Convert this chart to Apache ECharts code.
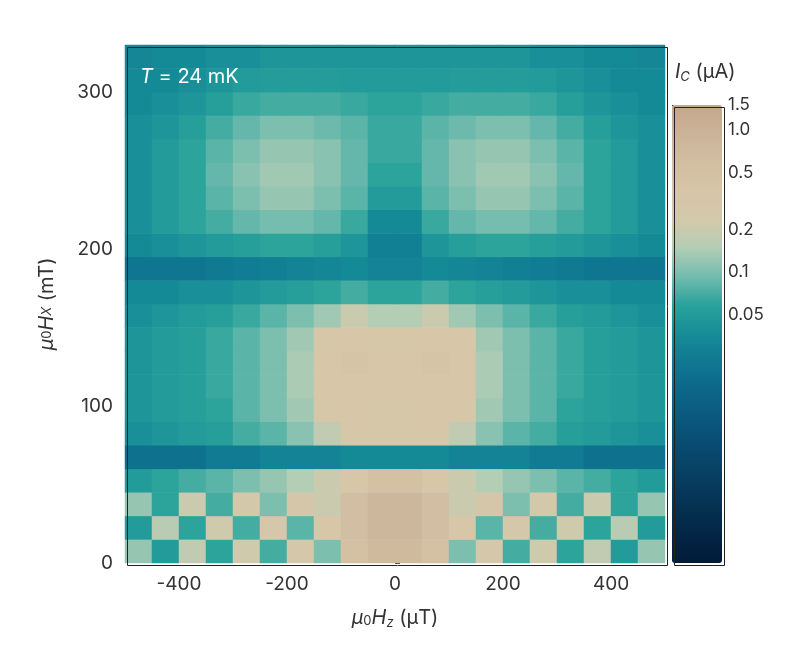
<!DOCTYPE html>
<html lang="en">
<head>
<meta charset="UTF-8">
<title>Ic map</title>
<script src="https://cdn.jsdelivr.net/npm/echarts@6/dist/echarts.min.js"></script>
<style>body{margin:0;background:#fff}</style>
</head>
<body>
<div id="main" style="width:793px;height:650px"></div>
<script>
// cell centres (µT, mT) and Ic values in µA, bottom row first
var hzCenters = [-475,-425,-375,-325,-275,-225,-175,-125,-75,-25,25,75,125,175,225,275,325,375,425,475];
var hxCenters = [7.5,22.5,37.5,52.5,67.5,82.5,97.5,112.5,127.5,142.5,157.5,172.5,187.5,202.5,217.5,232.5,247.5,262.5,277.5,292.5,307.5,322.5];
var icRows = [
  [0.12,0.05,0.18,0.06,0.22,0.07,0.28,0.1,0.5,0.7,0.7,0.5,0.1,0.28,0.07,0.22,0.06,0.18,0.05,0.12],
  [0.05,0.16,0.06,0.22,0.07,0.28,0.08,0.35,0.6,0.8,0.8,0.6,0.35,0.08,0.28,0.07,0.22,0.06,0.16,0.05],
  [0.12,0.06,0.2,0.07,0.25,0.1,0.32,0.2,0.6,0.8,0.8,0.6,0.2,0.32,0.1,0.25,0.07,0.2,0.06,0.12],
  [0.05,0.06,0.07,0.08,0.1,0.12,0.15,0.2,0.35,0.5,0.5,0.35,0.2,0.15,0.12,0.1,0.08,0.07,0.06,0.05],
  [0.02,0.02,0.02,0.025,0.025,0.03,0.03,0.03,0.035,0.035,0.035,0.035,0.03,0.03,0.03,0.025,0.025,0.02,0.02,0.02],
  [0.04,0.045,0.05,0.055,0.07,0.08,0.11,0.18,0.3,0.3,0.3,0.3,0.18,0.11,0.08,0.07,0.055,0.05,0.045,0.04],
  [0.045,0.05,0.055,0.06,0.08,0.1,0.13,0.3,0.35,0.3,0.3,0.35,0.3,0.13,0.1,0.08,0.06,0.055,0.05,0.045],
  [0.045,0.05,0.055,0.065,0.08,0.1,0.14,0.35,0.35,0.35,0.35,0.35,0.35,0.14,0.1,0.08,0.065,0.055,0.05,0.045],
  [0.045,0.05,0.055,0.065,0.08,0.1,0.14,0.35,0.4,0.35,0.35,0.4,0.35,0.14,0.1,0.08,0.065,0.055,0.05,0.045],
  [0.045,0.05,0.055,0.065,0.08,0.1,0.13,0.3,0.35,0.3,0.3,0.35,0.3,0.13,0.1,0.08,0.065,0.055,0.05,0.045],
  [0.04,0.045,0.05,0.055,0.065,0.08,0.1,0.13,0.2,0.15,0.15,0.2,0.13,0.1,0.08,0.065,0.055,0.05,0.045,0.04],
  [0.035,0.035,0.04,0.04,0.045,0.05,0.055,0.06,0.07,0.06,0.06,0.07,0.06,0.055,0.05,0.045,0.04,0.04,0.035,0.035],
  [0.022,0.022,0.022,0.024,0.026,0.028,0.03,0.032,0.035,0.03,0.03,0.035,0.032,0.03,0.028,0.026,0.024,0.022,0.022,0.022],
  [0.035,0.04,0.045,0.05,0.055,0.06,0.06,0.055,0.045,0.028,0.028,0.045,0.055,0.06,0.06,0.055,0.05,0.045,0.04,0.035],
  [0.04,0.05,0.06,0.07,0.085,0.095,0.095,0.085,0.065,0.035,0.035,0.065,0.085,0.095,0.095,0.085,0.07,0.06,0.05,0.04],
  [0.04,0.05,0.06,0.08,0.1,0.12,0.12,0.1,0.08,0.05,0.05,0.08,0.1,0.12,0.12,0.1,0.08,0.06,0.05,0.04],
  [0.04,0.05,0.06,0.085,0.11,0.13,0.13,0.11,0.085,0.06,0.06,0.085,0.11,0.13,0.13,0.11,0.085,0.06,0.05,0.04],
  [0.04,0.05,0.06,0.08,0.1,0.12,0.12,0.11,0.085,0.065,0.065,0.085,0.11,0.12,0.12,0.1,0.08,0.06,0.05,0.04],
  [0.04,0.045,0.055,0.07,0.085,0.1,0.1,0.09,0.08,0.065,0.065,0.08,0.09,0.1,0.1,0.085,0.07,0.055,0.045,0.04],
  [0.035,0.04,0.045,0.055,0.065,0.07,0.07,0.07,0.065,0.06,0.06,0.065,0.07,0.07,0.07,0.065,0.055,0.045,0.04,0.035],
  [0.035,0.035,0.04,0.045,0.05,0.052,0.052,0.052,0.05,0.05,0.05,0.05,0.052,0.052,0.052,0.05,0.045,0.04,0.035,0.035],
  [0.032,0.035,0.035,0.04,0.04,0.045,0.045,0.045,0.045,0.045,0.045,0.045,0.045,0.045,0.045,0.04,0.04,0.035,0.035,0.032]
];
var xTicks = [-400,-200,0,200,400];
var yTicks = [0,100,200,300];
var cbarTicks = [1.5,1.0,0.5,0.2,0.1,0.05];
var cbarMin = 0.0009, cbarMax = 1.5;
var cmap = ['#021b38','#032545','#053252','#073f62','#084a70','#0a577d','#0c6689','#0f7892','#168c98','#28a29b','#72bcae','#b3cdb5','#d4c9ab','#d7c5a8','#d2bea2','#cbb398','#c4a78d'];

var cells = [];
icRows.forEach(function (row, j) {
    row.forEach(function (v, i) { cells.push([i, j, Math.log10(v)]); });
});

var font = 'Inter';
var chart = echarts.init(document.getElementById('main'));
chart.setOption({
    textStyle: {fontFamily: font},
    grid: [
        {left: 125, top: 45, width: 540, height: 518},
        {left: 125, top: 45, width: 540, height: 518},
        {left: 672, top: 105, width: 50, height: 458}
    ],
    xAxis: [
        {gridIndex: 0, type: 'category', data: hzCenters, show: false},
        {gridIndex: 1, type: 'value', min: -500, max: 500,
         name: '{i|μ}{n|0}{i|H}{s|z} (μT)', nameLocation: 'middle', nameGap: 42,
         nameTextStyle: {fontSize: 20, color: '#333', rich: {i: {fontStyle: 'italic', fontSize: 20}, n: {fontSize: 13, padding: [8,0,0,0]}, s: {fontStyle: 'italic', fontSize: 13, padding: [12,0,0,0]}}},
         axisLine: {show: false}, splitLine: {show: false},
         axisTick: {customValues: xTicks, length: 5, inside: true, lineStyle: {color: '#333'}},
         axisLabel: {customValues: xTicks, fontSize: 19, color: '#333', margin: 12}},
        {gridIndex: 2, type: 'value', show: false, min: 0, max: 1}
    ],
    yAxis: [
        {gridIndex: 0, type: 'category', data: hxCenters, show: false},
        {gridIndex: 1, type: 'value', min: 0, max: 330,
         name: '{i|μ}{n|0}{i|H}{s|X} (mT)', nameLocation: 'middle', nameGap: 68,
         nameTextStyle: {fontSize: 20, color: '#333', rich: {i: {fontStyle: 'italic', fontSize: 20}, n: {fontSize: 13}, s: {fontStyle: 'italic', fontSize: 13}}},
         axisLine: {show: false}, splitLine: {show: false},
         axisTick: {customValues: yTicks, length: 5, inside: true, lineStyle: {color: '#333'}},
         axisLabel: {customValues: yTicks, fontSize: 19, color: '#333', margin: 12}},
        {gridIndex: 2, type: 'value', position: 'right', min: Math.log10(cbarMin), max: Math.log10(cbarMax),
         axisLine: {show: false}, splitLine: {show: false},
         axisTick: {customValues: cbarTicks.map(Math.log10), length: 6, lineStyle: {color: '#222'}},
         axisLabel: {customValues: cbarTicks.map(Math.log10), fontSize: 17, color: '#333', margin: 6,
             formatter: function (v) { var x = Math.pow(10, v); return x >= 1 ? x.toFixed(1) : +x.toFixed(2) + ''; }}}
    ],
    visualMap: {
        type: 'continuous', min: Math.log10(cbarMin), max: Math.log10(cbarMax),
        seriesIndex: 0, left: 672, top: 105, padding: 0, itemWidth: 50, itemHeight: 458,
        text: null, showLabel: false, calculable: false, hoverLink: false,
        inRange: {color: cmap}
    },
    graphic: [
        {type: 'rect', left: 672, top: 105, shape: {width: 50, height: 458}, style: {fill: 'none', stroke: '#222', lineWidth: 1}, z: 100},
        {type: 'text', left: 140, top: 67, style: {rich: {i: {fontStyle: 'italic', fontSize: 20, fill: '#fff', fontFamily: font}, r: {fontSize: 20, fill: '#fff', fontFamily: font}}, text: '{i|T}{r| = 24 mK}'}, z: 100},
        {type: 'text', left: 675, top: 62, style: {rich: {i: {fontStyle: 'italic', fontSize: 20, fill: '#333', fontFamily: font}, s: {fontStyle: 'italic', fontSize: 13, fill: '#333', fontFamily: font, padding: [10,0,0,0]}, r: {fontSize: 20, fill: '#333', fontFamily: font}}, text: '{i|I}{s|C}{r| (μA)}'}},
        {type: 'rect', left: 125, top: 45, shape: {width: 540, height: 518}, style: {fill: 'none', stroke: '#222', lineWidth: 1}, z: 100}
    ],
    series: [{
        type: 'heatmap', xAxisIndex: 0, yAxisIndex: 0, data: cells, itemStyle: {borderWidth: 0}
    }]
});
</script>
</body>
</html>
